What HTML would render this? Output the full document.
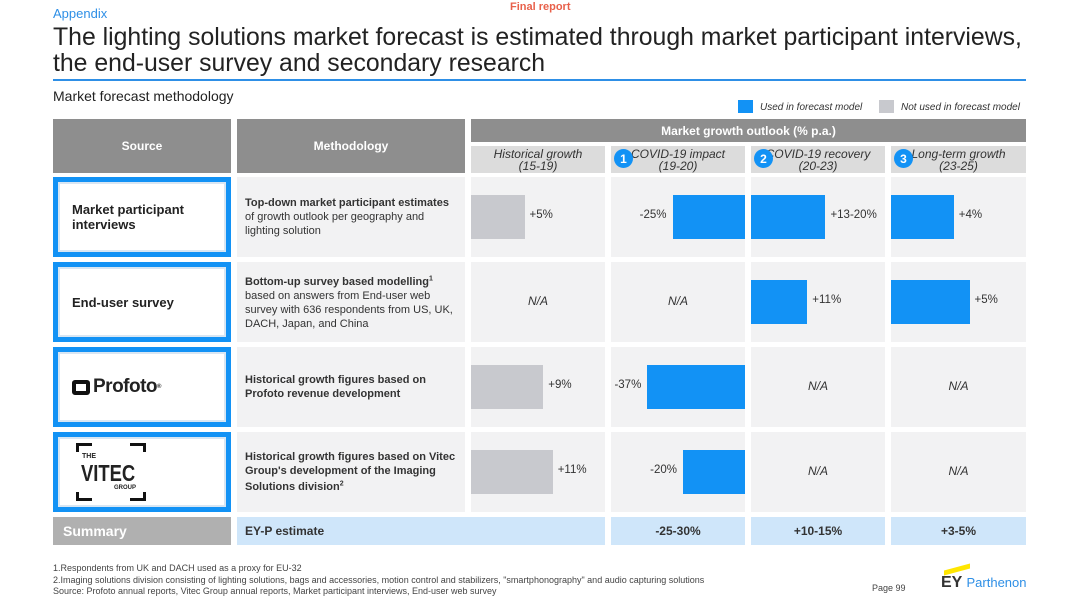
<!DOCTYPE html>
<html><head><meta charset="utf-8">
<style>
*{margin:0;padding:0;box-sizing:border-box}
body{width:1080px;height:608px;background:#fff;font-family:"Liberation Sans",Arial,sans-serif;position:relative;overflow:hidden;color:#222}
.a{position:absolute}
.hd{background:#8e8e8e;color:#fff;font-weight:bold;font-size:12px;display:flex;align-items:center;justify-content:center}
.sub{background:#dcdcdc;font-style:italic;font-size:12px;color:#333;text-align:center;line-height:12px;padding-top:2px}
.cell{background:#f2f2f3}
.src{background:#1292f5;padding:5px}
.src>div{background:#fff;width:100%;height:100%;border:2px solid #d8e6f3;display:flex;align-items:center;padding-left:12px;font-weight:bold;font-size:13px}
.meth{font-size:11px;line-height:14px;padding:0 8px;display:flex;align-items:center;color:#333}
.num{font-size:11.5px;color:#333}
.na{font-style:italic;font-size:12px;color:#333}
.circ{width:19px;height:19px;border-radius:50%;background:#1292f5;color:#fff;font-weight:bold;font-size:12px;display:flex;align-items:center;justify-content:center;font-style:normal}
.sum{background:#cfe6fa;font-weight:bold;font-size:12px;display:flex;align-items:center;justify-content:center;color:#333}
</style></head><body>
<div class="a" style="left:53px;top:6px;font-size:13px;color:#2e8fe6">Appendix</div>
<div class="a" style="left:510px;top:1px;font-size:11px;color:#e8604a;font-weight:bold">Final report</div>
<div class="a" style="left:53px;top:25px;font-size:24.8px;line-height:26px;color:#222;white-space:nowrap">The lighting solutions market forecast is estimated through market participant interviews,<br>the end-user survey and secondary research</div>
<div class="a" style="left:53px;top:79px;width:973px;height:2px;background:#2e8fe6"></div>
<div class="a" style="left:53px;top:88px;font-size:14px;color:#222">Market forecast methodology</div>

<div class="a" style="left:738px;top:100px;width:15px;height:13px;background:#1292f5"></div>
<div class="a" style="left:760px;top:102px;font-size:10px;font-style:italic;color:#333">Used in forecast model</div>
<div class="a" style="left:879px;top:100px;width:15px;height:13px;background:#c8c9ce"></div>
<div class="a" style="left:901px;top:102px;font-size:10px;font-style:italic;color:#333">Not used in forecast model</div>

<div class="a hd" style="left:53px;top:119px;width:178px;height:54px">Source</div>
<div class="a hd" style="left:237px;top:119px;width:228px;height:54px">Methodology</div>
<div class="a hd" style="left:471px;top:119px;width:555px;height:23px">Market growth outlook (% p.a.)</div>

<div id="chart"></div>

<div class="a src" style="left:53px;top:177px;width:178px;height:80px"><div>Market participant<br>interviews</div></div>
<div class="a src" style="left:53px;top:262px;width:178px;height:80px"><div>End-user survey</div></div>
<div class="a src" style="left:53px;top:347px;width:178px;height:80px"><div style="font-size:19px;font-weight:900;letter-spacing:-0.5px"><span style="display:inline-block;width:18px;height:15px;border:4px solid #111;border-radius:3px;margin-right:3px"></span>Profoto<sup style="font-size:6px">®</sup></div></div>
<div class="a src" style="left:53px;top:432px;width:178px;height:80px"><div style="padding-left:16px"><div style="position:relative;width:70px;height:62px;border:0">
<div class="a" style="left:0;top:2px;width:16px;height:3px;background:#111"></div><div class="a" style="left:0;top:2px;width:3px;height:9px;background:#111"></div>
<div class="a" style="right:0;top:2px;width:16px;height:3px;background:#111"></div><div class="a" style="right:0;top:2px;width:3px;height:9px;background:#111"></div>
<div class="a" style="left:0;bottom:2px;width:16px;height:3px;background:#111"></div><div class="a" style="left:0;bottom:2px;width:3px;height:9px;background:#111"></div>
<div class="a" style="right:0;bottom:2px;width:16px;height:3px;background:#111"></div><div class="a" style="right:0;bottom:2px;width:3px;height:9px;background:#111"></div>
<div class="a" style="left:6px;top:12px;font-size:7px;font-weight:bold">THE</div>
<div class="a" style="left:5px;top:19px;font-size:23px;font-weight:bold;transform:scaleX(0.8);transform-origin:left">VITEC</div>
<div class="a" style="left:38px;top:44px;font-size:6px;font-weight:bold">GROUP</div></div></div></div>

<div class="a cell meth" style="left:237px;top:177px;width:228px;height:80px"><div><b>Top-down market participant estimates</b><br>of growth outlook per geography and lighting solution</div></div>
<div class="a cell meth" style="left:237px;top:262px;width:228px;height:80px"><div><b>Bottom-up survey based modelling<sup style="font-size:7px">1</sup></b><br>based on answers from End-user web survey with 636 respondents from US, UK, DACH, Japan, and China</div></div>
<div class="a cell meth" style="left:237px;top:347px;width:228px;height:80px"><div><b>Historical growth figures based on Profoto revenue development</b></div></div>
<div class="a cell meth" style="left:237px;top:432px;width:228px;height:80px"><div><b>Historical growth figures based on Vitec Group's development of the Imaging Solutions division<sup style="font-size:7px">2</sup></b></div></div>

<div class="a" style="left:53px;top:517px;width:178px;height:28px;background:#b0b0b0;color:#fff;font-weight:bold;font-size:14px;padding-left:10px;line-height:28px">Summary</div>
<div class="a sum" style="left:237px;top:517px;width:368px;height:28px;justify-content:flex-start;padding-left:8px">EY-P estimate</div>
<div class="a sum" style="left:611px;top:517px;width:134px;height:28px">-25-30%</div>
<div class="a sum" style="left:751px;top:517px;width:134px;height:28px">+10-15%</div>
<div class="a sum" style="left:891px;top:517px;width:135px;height:28px">+3-5%</div>

<div class="a" style="left:53px;top:563px;font-size:9px;line-height:11.5px;color:#444;white-space:nowrap">1.Respondents from UK and DACH used as a proxy for EU-32<br>2.Imaging solutions division consisting of lighting solutions, bags and accessories, motion control and stabilizers, "smartphonography" and audio capturing solutions<br>Source: Profoto annual reports, Vitec Group annual reports, Market participant interviews, End-user web survey</div>
<div class="a" style="left:872px;top:583px;font-size:9px;color:#444">Page 99</div>
<div class="a" style="left:944px;top:567px;width:26px;height:5px;background:#ffe600;transform:skewY(-15deg)"></div>
<div class="a" style="left:941px;top:574px;font-size:16px;font-weight:900;color:#333">EY <span style="font-weight:normal;font-size:13px;color:#2e8fe6">Parthenon</span></div>

<script>
const columns=["Historical growth","COVID-19 impact","COVID-19 recovery","Long-term growth"];
const periods=["(15-19)","(19-20)","(20-23)","(23-25)"];
const rowsHistorical=[5,null,9,11];
const rowsCovidImpact=[-25,null,-37,-20];
const rowsCovidRecovery=[16.5,11,null,null];
const rowsLongTerm=[4,5,null,null];
const labelsHistorical=["+5%","N/A","+9%","+11%"];
const labelsCovidImpact=["-25%","N/A","-37%","-20%"];
const labelsCovidRecovery=["+13-20%","+11%","N/A","N/A"];
const labelsLongTerm=["+4%","+5%","N/A","N/A"];
const series=[rowsHistorical,rowsCovidImpact,rowsCovidRecovery,rowsLongTerm];
const labels=[labelsHistorical,labelsCovidImpact,labelsCovidRecovery,labelsLongTerm];
const colX=[471,611,751,891],colW=[134,134,134,135];
const rowY=[177,262,347,432],rowH=80;
const axisA=[30,20,20,0],axisB=[4.7,2.1,3.3,15.7];
function xScale(c,v){return axisA[c]+axisB[c]*Math.abs(v);}
const root=document.getElementById('chart');
function mk(style,cls){const d=document.createElement('div');d.className='a '+(cls||'');d.style.cssText=style;root.appendChild(d);return d;}
for(let c=0;c<4;c++){
  const s=mk(`left:${colX[c]}px;top:146px;width:${colW[c]}px;height:27px`,'sub');
  
  
  s.innerHTML=columns[c]+'<br>'+periods[c];
  if(c>0){const ci=mk(`left:${colX[c]+3}px;top:149px`,'circ');ci.textContent=c;
    
    }
  for(let r=0;r<4;r++){
    const cell=mk(`left:${colX[c]}px;top:${rowY[r]}px;width:${colW[c]}px;height:${rowH}px`,'cell');
    
    
    const v=series[c][r];const cy=rowY[r]+rowH/2;
    if(v===null){const t=mk(`left:${colX[c]}px;top:${cy-8}px;width:${colW[c]}px;text-align:center`,'na');t.textContent=labels[c][r];
      
      continue;}
    const w=xScale(c,v);const color=c===0?'#c8c9ce':'#1292f5';
    let bx=v<0?colX[c]+colW[c]-w:colX[c];
    const b=mk(`left:${bx}px;top:${cy-22}px;width:${w}px;height:44px;background:${color}`);
    
    
    const t=mk(`top:${cy-8}px;`+(v<0?`right:${1080-bx+6}px`:`left:${bx+w+5}px`),'num');
    t.textContent=labels[c][r];
    
    
  }
}
</script>
</body></html>
